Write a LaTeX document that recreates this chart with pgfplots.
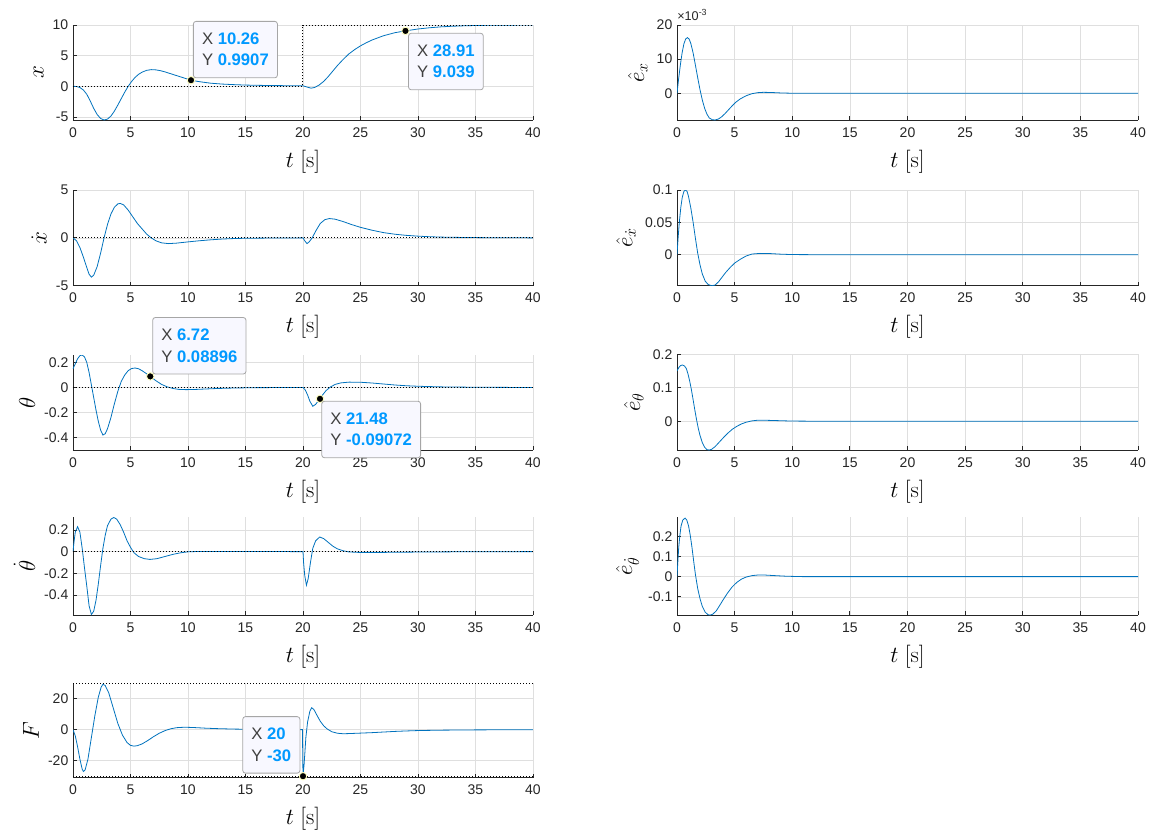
\documentclass[border=0pt]{standalone}
\usepackage[no-math]{fontspec}
\setmainfont{Liberation Sans}
\usepackage{pgfplots}
\pgfplotsset{compat=1.18}
\definecolor{mblue}{rgb}{0,0.447,0.741}
\definecolor{tickgray}{rgb}{0.15,0.15,0.15}
\definecolor{gridgray}{rgb}{0.875,0.875,0.875}
\definecolor{tipblue}{rgb}{0,0.6,1}
\definecolor{tipbg}{rgb}{0.973,0.973,1}
\definecolor{tipedge}{rgb}{0.65,0.65,0.65}
\definecolor{tiptext}{rgb}{0.25,0.25,0.25}
\definecolor{tipring}{rgb}{1,1,0.75}
\pgfplotsset{
  mystyle/.style={
    scale only axis, width=345pt, height=71.25pt,
    xmin=0, xmax=40, xtick={0,5,...,40},
    axis lines*=left,
    axis line style={tickgray, line width=0.6pt},
    tick style={tickgray, line width=0.6pt},
    tick align=inside, major tick length=3pt,
    grid=major, grid style={gridgray, line width=0.5pt},
    tick label style={font=\fontsize{10.5}{12}\selectfont, text=tickgray},
    xticklabel style={yshift=-2pt},
    xlabel={$t\ [\mathrm{s}]$},
    label style={font=\fontsize{17}{20}\selectfont},
    xlabel style={yshift=-2.5pt},
    /pgf/number format/assume math mode=true,
    anchor=south west,
  },
  curve/.style={mblue, line width=0.6pt},
  refl/.style={black, dash pattern=on 0.8pt off 1.45pt, line width=0.75pt},
  tipmark/.style={only marks, mark=*, mark size=2.8pt, mark options={fill=black, draw=tipring, line width=0.7pt}},
}
\tikzset{tip/.style={draw=tipedge, fill=tipbg, rounded corners=2pt, align=left, inner xsep=6.5pt, inner ysep=8.75pt, font=\fontsize{12.5}{16}\selectfont, line width=0.6pt}}
\newcommand{\tiptext}[2]{{\color{tiptext}X} {\color{tipblue}\bfseries #1}\\{\color{tiptext}Y} {\color{tipblue}\bfseries #2}}
\begin{document}
\begin{tikzpicture}
\useasboundingbox (0,0) rectangle (865.5pt,-621.75pt);
% ---------------- x
\begin{axis}[mystyle, at={(54.75pt,-90pt)}, ymin=-5.5, ymax=10,
  ytick={-5,0,5,10}, yticklabels={-5,0,5,10}, ylabel={$x$}]
\addplot[curve] coordinates {(0,0) (0.3,-0.03) (0.6,-0.2) (0.9,-0.6) (1.2,-1.3) (1.5,-2.4) (1.8,-3.6) (2.1,-4.6) (2.4,-5.25) (2.7,-5.5) (3.0,-5.35) (3.3,-4.85) (3.6,-4.05) (3.9,-3.05) (4.2,-2.0) (4.5,-0.95) (4.8,0.0) (5.1,0.8) (5.4,1.45) (5.7,1.95) (6.0,2.3) (6.4,2.6) (6.8,2.72) (7.2,2.68) (7.6,2.55) (8,2.35) (8.5,2.05) (9,1.75) (9.5,1.45) (10,1.15) (10.26,0.9907) (11,0.75) (12,0.5) (13,0.36) (14,0.27) (15,0.2) (16,0.16) (17,0.13) (18,0.11) (19,0.09) (20,0.08) (20.4,-0.15) (20.7,-0.3) (21.0,-0.2) (21.4,0.2) (21.8,0.8) (22.2,1.6) (22.6,2.5) (23.0,3.4) (23.5,4.4) (24.0,5.3) (24.5,6.0) (25.0,6.6) (25.5,7.1) (26,7.55) (27,8.25) (28,8.75) (28.91,9.039) (30,9.35) (31,9.55) (32,9.7) (33,9.8) (34,9.87) (35,9.92) (36,9.95) (38,9.98) (40,10)};
\addplot[refl] coordinates {(0,0) (20,0) (20,10) (40,10)};
\addplot[tipmark] coordinates {(10.26,0.9907) (28.91,9.039)};
\coordinate (ta) at (axis cs:10.26,0.9907);
\coordinate (tb) at (axis cs:28.91,9.039);
\end{axis}
% ---------------- xdot
\begin{axis}[mystyle, at={(54.75pt,-214.3pt)}, height=71.8pt, ymin=-5, ymax=5,
  ytick={-5,0,5}, yticklabels={-5,0,5}, ylabel={$\dot{x}$}]
\addplot[curve] coordinates {(0,0) (0.3,-0.3) (0.6,-1.0) (0.9,-2.0) (1.2,-3.1) (1.4,-3.8) (1.6,-4.1) (1.8,-3.9) (2.1,-3.0) (2.4,-1.6) (2.7,0.0) (3.0,1.4) (3.3,2.5) (3.6,3.2) (3.9,3.55) (4.1,3.6) (4.4,3.45) (4.8,2.9) (5.2,2.2) (5.6,1.5) (6.0,0.95) (6.4,0.4) (6.8,0.0) (7.2,-0.3) (7.7,-0.52) (8.3,-0.6) (9,-0.55) (10,-0.42) (11,-0.3) (12,-0.2) (13,-0.12) (14,-0.07) (15,-0.04) (17,-0.02) (19,-0.01) (20,0.0) (20.15,-0.3) (20.35,-0.6) (20.55,-0.4) (20.8,0.0) (21.1,0.7) (21.5,1.5) (21.9,1.9) (22.3,2.02) (22.8,1.95) (23.5,1.7) (24.2,1.4) (25,1.1) (26,0.8) (27,0.55) (28,0.38) (29,0.26) (30,0.18) (31,0.12) (32,0.08) (34,0.04) (36,0.02) (38,0.01) (40,0)};
\addplot[refl] coordinates {(0,0) (40,0)};
\end{axis}
% ---------------- theta
\begin{axis}[mystyle, at={(54.75pt,-337.5pt)}, ymin=-0.5, ymax=0.26,
  ytick={-0.4,-0.2,0,0.2}, yticklabels={-0.4,-0.2,0,0.2}, ylabel={$\theta$}]
\addplot[curve] coordinates {(0,0.15) (0.2,0.19) (0.4,0.23) (0.6,0.255) (0.8,0.26) (1.0,0.245) (1.2,0.2) (1.4,0.12) (1.6,0.02) (1.8,-0.08) (2.0,-0.18) (2.2,-0.27) (2.4,-0.34) (2.6,-0.38) (2.8,-0.37) (3.0,-0.33) (3.3,-0.24) (3.6,-0.13) (3.9,-0.03) (4.2,0.05) (4.5,0.1) (4.8,0.135) (5.1,0.152) (5.4,0.156) (5.7,0.15) (6.0,0.135) (6.4,0.11) (6.72,0.08896) (7.2,0.055) (7.7,0.025) (8.2,0.005) (8.7,-0.008) (9.2,-0.015) (9.8,-0.017) (10.5,-0.016) (11.5,-0.012) (12.5,-0.008) (14,-0.004) (16,-0.001) (20,0) (20.2,-0.02) (20.4,-0.06) (20.6,-0.11) (20.85,-0.15) (21.1,-0.135) (21.3,-0.11) (21.48,-0.09072) (21.7,-0.06) (22,-0.025) (22.4,0.005) (22.8,0.025) (23.3,0.037) (24,0.043) (25,0.042) (26,0.036) (27,0.028) (28,0.02) (29,0.014) (30,0.01) (32,0.005) (35,0.002) (40,0)};
\addplot[refl] coordinates {(0,0) (40,0)};
\addplot[tipmark] coordinates {(6.72,0.08896) (21.48,-0.09072)};
\coordinate (tc) at (axis cs:6.72,0.08896);
\coordinate (td) at (axis cs:21.48,-0.09072);
\end{axis}
% ---------------- thetadot
\begin{axis}[mystyle, at={(54.75pt,-461.25pt)}, height=73.3pt, ymin=-0.585, ymax=0.317,
  ytick={-0.4,-0.2,0,0.2}, yticklabels={-0.4,-0.2,0,0.2}, ylabel={$\dot{\theta}$}]
\addplot[curve] coordinates {(0,0) (0.1,0.1) (0.2,0.18) (0.4,0.23) (0.6,0.18) (0.8,0.03) (1.0,-0.15) (1.2,-0.32) (1.4,-0.5) (1.6,-0.58) (1.8,-0.55) (2.0,-0.45) (2.2,-0.3) (2.4,-0.13) (2.6,0.03) (2.8,0.15) (3.0,0.24) (3.3,0.3) (3.55,0.315) (3.8,0.3) (4.1,0.25) (4.4,0.18) (4.7,0.1) (5.0,0.04) (5.3,-0.01) (5.7,-0.045) (6.2,-0.065) (6.7,-0.072) (7.3,-0.065) (8,-0.045) (8.7,-0.025) (9.4,-0.01) (10,-0.002) (11,0.002) (12,0.002) (14,0.001) (20,0) (20.05,-0.1) (20.15,-0.22) (20.3,-0.31) (20.45,-0.25) (20.65,-0.1) (20.85,0.03) (21.1,0.1) (21.45,0.135) (21.8,0.12) (22.2,0.085) (22.6,0.05) (23,0.025) (23.5,0.008) (24,-0.003) (25,-0.008) (26,-0.008) (28,-0.006) (30,-0.004) (33,-0.002) (36,-0.001) (40,0)};
\addplot[refl] coordinates {(0,0) (40,0)};
\end{axis}
% ---------------- F
\begin{axis}[mystyle, at={(54.75pt,-583.3pt)}, ymin=-31, ymax=30.3,
  ytick={-20,0,20}, yticklabels={-20,0,20}, ylabel={$F$}]
\addplot[curve] coordinates {(0,0) (0.2,-4) (0.4,-11) (0.6,-19) (0.8,-25.5) (0.9,-27) (1.05,-26) (1.3,-19) (1.6,-5) (1.9,9) (2.2,21) (2.45,27.5) (2.6,29.3) (2.8,28.5) (3.1,24) (3.5,14) (3.9,4) (4.3,-3.5) (4.7,-8.3) (5.0,-10.1) (5.3,-10.6) (5.6,-10.3) (6.0,-9.2) (6.5,-7) (7.0,-4.5) (7.5,-2.3) (8.0,-0.6) (8.5,0.6) (9,1.3) (9.7,1.6) (10.5,1.4) (11.5,1.0) (12.5,0.7) (14,0.4) (16,0.2) (18,0.1) (19.95,0.05) (20,-30) (20.1,-22) (20.25,-5) (20.4,5) (20.6,12) (20.75,14.2) (20.95,13) (21.2,9.5) (21.5,5.5) (21.8,2.5) (22.1,0.5) (22.5,-1.3) (23,-2.3) (23.5,-2.6) (24,-2.5) (25,-2.2) (26,-1.9) (27,-1.5) (28,-1.1) (29,-0.8) (30,-0.55) (32,-0.3) (35,-0.12) (38,-0.04) (40,0)};
\addplot[refl] coordinates {(0,30) (40,30)};
\addplot[refl] coordinates {(0,-30) (40,-30)};
\addplot[tipmark, clip=false] coordinates {(20,-30)};
\coordinate (te) at (axis cs:20,-30);
\end{axis}
% ---------------- e_x (x 1e-3)
\begin{axis}[mystyle, at={(507.75pt,-90pt)}, width=345.75pt, ymin=-7.8, ymax=20,
  ytick={0,10,20}, yticklabels={0,10,20}, ylabel={$\hat{e}_{x}$}]
\addplot[curve] coordinates {(0,0) (0.15,4.5) (0.3,8.5) (0.45,12) (0.6,14.5) (0.75,15.9) (0.9,16.3) (1.05,15.9) (1.2,14.6) (1.4,11.8) (1.6,8.2) (1.8,4.5) (2.0,1.0) (2.2,-2.0) (2.4,-4.4) (2.6,-6.1) (2.8,-7.2) (3.05,-7.7) (3.3,-7.8) (3.6,-7.5) (3.9,-6.8) (4.2,-5.8) (4.5,-4.7) (4.8,-3.6) (5.1,-2.6) (5.5,-1.6) (6.0,-0.7) (6.5,-0.1) (7.0,0.2) (7.5,0.3) (8.2,0.25) (9,0.12) (10,0.03) (12,0) (40,0)};
\coordinate (ex) at (rel axis cs:0,1);
\end{axis}
% ---------------- e_xdot
\begin{axis}[mystyle, at={(507.75pt,-214.3pt)}, width=345.75pt, height=71.8pt, ymin=-0.048, ymax=0.1,
  ytick={0,0.05,0.1}, yticklabels={0,0.05,0.1}, ylabel={$\hat{e}_{\dot{x}}$}]
\addplot[curve] coordinates {(0,0) (0.1,0.027) (0.2,0.05) (0.33,0.073) (0.45,0.088) (0.6,0.098) (0.73,0.1) (0.87,0.098) (1.0,0.09) (1.2,0.072) (1.4,0.05) (1.6,0.025) (1.8,0.002) (2.0,-0.016) (2.2,-0.03) (2.45,-0.041) (2.7,-0.046) (3.0,-0.048) (3.3,-0.047) (3.6,-0.042) (3.9,-0.035) (4.2,-0.028) (4.6,-0.02) (5.0,-0.013) (5.5,-0.007) (6.0,-0.002) (6.5,0.001) (7.2,0.002) (8,0.0018) (9,0.0008) (10,0.0002) (12,0) (40,0)};
\end{axis}
% ---------------- e_theta
\begin{axis}[mystyle, at={(507.75pt,-337.5pt)}, width=345.75pt, height=71.8pt, ymin=-0.086, ymax=0.2,
  ytick={0,0.1,0.2}, yticklabels={0,0.1,0.2}, ylabel={$\hat{e}_{\theta}$}]
\addplot[curve] coordinates {(0,0.15) (0.15,0.16) (0.3,0.166) (0.48,0.168) (0.65,0.165) (0.8,0.158) (0.95,0.142) (1.1,0.12) (1.25,0.094) (1.4,0.064) (1.55,0.033) (1.7,0.004) (1.85,-0.022) (2.0,-0.043) (2.2,-0.064) (2.4,-0.078) (2.6,-0.085) (2.8,-0.086) (3.0,-0.084) (3.3,-0.076) (3.6,-0.065) (4.0,-0.05) (4.4,-0.036) (4.8,-0.024) (5.2,-0.015) (5.6,-0.008) (6.0,-0.003) (6.5,0.001) (7.0,0.003) (7.5,0.003) (8.5,0.002) (10,0.0005) (12,0) (40,0)};
\end{axis}
% ---------------- e_thetadot
\begin{axis}[mystyle, at={(507.75pt,-461.25pt)}, width=345.75pt, height=73.3pt, ymin=-0.19, ymax=0.294,
  ytick={-0.1,0,0.1,0.2}, yticklabels={-0.1,0,0.1,0.2}, ylabel={$\hat{e}_{\dot{\theta}}$}]
\addplot[curve] coordinates {(0,0) (0.08,0.08) (0.15,0.145) (0.25,0.205) (0.35,0.25) (0.5,0.28) (0.7,0.29) (0.85,0.28) (1.0,0.252) (1.15,0.205) (1.3,0.145) (1.45,0.075) (1.6,0.01) (1.8,-0.06) (2.0,-0.11) (2.2,-0.148) (2.45,-0.176) (2.7,-0.189) (2.9,-0.19) (3.1,-0.186) (3.4,-0.17) (3.7,-0.143) (4.0,-0.115) (4.4,-0.08) (4.8,-0.05) (5.2,-0.028) (5.6,-0.012) (6.0,-0.002) (6.5,0.005) (7.0,0.008) (7.6,0.008) (8.5,0.005) (9.5,0.002) (11,0) (40,0)};
\end{axis}
% ---------------- annotations
\node[anchor=south west, inner sep=0pt, font=\fontsize{9.5}{11}\selectfont, text=tickgray] at ([shift={(0pt,3pt)}]ex) {×10\textsuperscript{-3}};
\node[tip, anchor=south west] at ([shift={(1.5pt,1.5pt)}]ta) {\tiptext{10.26}{0.9907}};
\node[tip, anchor=north west] at ([shift={(2pt,-1.5pt)}]tb) {\tiptext{28.91}{9.039}};
\node[tip, anchor=south west] at ([shift={(1.5pt,1.5pt)}]tc) {\tiptext{6.72}{0.08896}};
\node[tip, anchor=north west] at ([shift={(1pt,-1.5pt)}]td) {\tiptext{21.48}{-0.09072}};
\node[tip, anchor=south east] at ([shift={(-2pt,2pt)}]te) {\tiptext{20}{-30}};
\end{tikzpicture}
\end{document}
